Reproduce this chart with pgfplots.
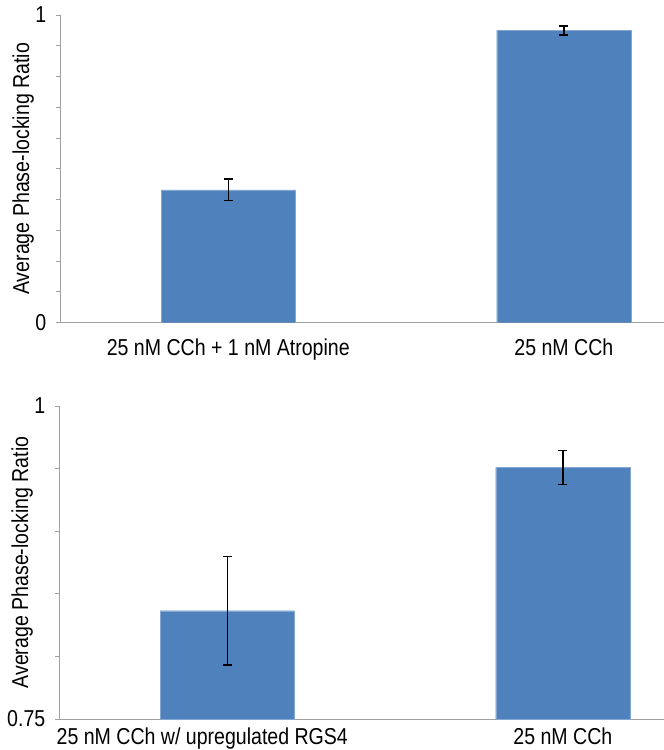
\documentclass[border=0pt]{standalone}
\usepackage{fontspec}
\setmainfont{Liberation Sans}[FakeStretch=0.85]
\usepackage{pgfplots}
\pgfplotsset{compat=1.18}
\definecolor{barblue}{HTML}{4F81BD}
\definecolor{axgray}{HTML}{A0A0A0}

\pgfplotsset{phase/.style={
  scale only axis, width=604pt,
  xmin=-0.5, xmax=1.3,
  axis lines=left, axis line style={axgray, line width=1pt, -},
  ybar, bar width=0.4,
  xtick={0,1}, major x tick style={draw=none},
  extra x ticks={0.5}, extra x tick labels={},
  extra x tick style={major tick length=6pt, tick style={axgray, line width=1pt}},
  tick align=outside, major tick length=4pt,
  tick style={axgray, line width=1pt},
  ticklabel style={font=\fontsize{23}{26}\selectfont, black},
  /pgf/number format/assume math mode=true,
  yticklabel style={anchor=east, inner sep=0pt, xshift=-10pt},
  ylabel={Average Phase-locking Ratio},
  every axis y label/.style={at={(axis description cs:-0.062,0.5)}, rotate=90, anchor=center, font=\fontsize{23}{26}\selectfont},
  error bars/y dir=both, error bars/y explicit,
  error bars/error bar style={black, line width=1.4pt},
  error bars/error mark options={rotate=90, mark size=4.5pt, line width=1.4pt, black},
}}

\begin{document}
\begin{tikzpicture}
\path[use as bounding box] (0,0) rectangle (664pt,-750pt);

\begin{axis}[phase, at={(60.5pt,-322.7pt)}, anchor=south west, height=307.7pt,
  ymin=0, ymax=1, ytick={0,0.1,0.2,0.3,0.4,0.5,0.6,0.7,0.8,0.9,1},
  yticklabels={0,,,,,,,,,,1},
  xticklabels={25 nM CCh + 1 nM Atropine, 25 nM CCh},
  xticklabel style={anchor=north, inner sep=0pt, yshift=-12pt}]
  \addplot[fill=barblue, draw=barblue!70!white] coordinates {
    (0,0.432) +- (0,0.035)
    (1,0.950) +- (0,0.0145)
  };
\end{axis}

\begin{axis}[phase, at={(59.5pt,-719pt)}, anchor=south west, height=313pt,
  ymin=0.75, ymax=1, ytick={0.75,0.8,0.85,0.9,0.95,1},
  yticklabels={0.75,,,,,1},
  xticklabels={\hspace*{-50pt}25 nM CCh w/ upregulated RGS4, 25 nM CCh},
  xticklabel style={anchor=north, inner sep=0pt, yshift=-5pt}]
  \addplot[fill=barblue, draw=barblue!70!white] coordinates {
    (0,0.8365) +- (0,0.0435)
    (1,0.951) +- (0,0.0135)
  };
\end{axis}
\end{tikzpicture}
\end{document}
